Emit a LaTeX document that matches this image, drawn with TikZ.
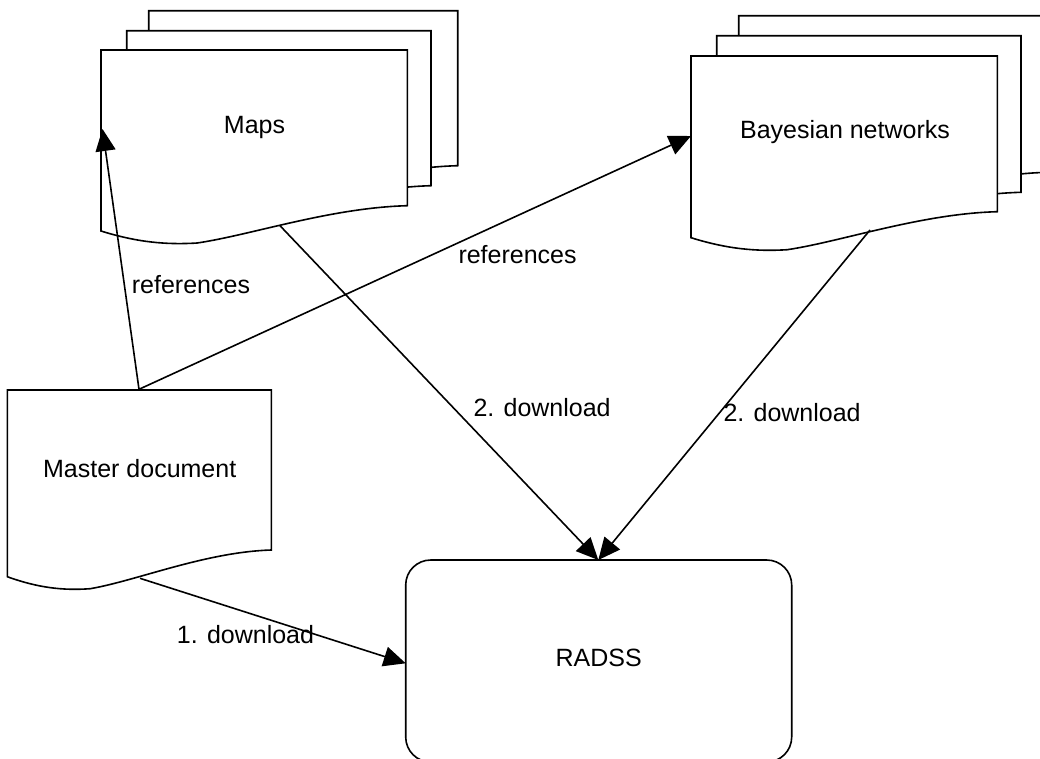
\documentclass[tikz,border=0pt]{standalone}
\usepackage{fontspec}
\setmainfont{Liberation Sans}
\usetikzlibrary{arrows.meta}
\newcommand\docshape[5]{%
  \filldraw[docline] (#1,#2) -- ({#1+#3},#2) -- ({#1+#3},{#2+#5})
    .. controls ({#1+0.75*#3},{#2+#5+2}) and ({#1+0.49*#3},{#2+#4+4}) .. ({#1+0.314*#3},{#2+#4+12})
    .. controls ({#1+0.21*#3},{#2+#4+14}) and ({#1+0.115*#3},{#2+#4+11}) .. (#1,{#2+#4}) -- cycle;}
\begin{document}
\begin{tikzpicture}[x=1pt,y=-1pt,
  docline/.style={draw=black,fill=white,line width=1.6pt,line join=miter},
  conn/.style={draw=black,line width=1.6pt,-{Triangle[length=22pt,width=20pt]}},
  lbl/.style={inner sep=0pt,font=\fontsize{25}{30}\selectfont},
  radssbox/.style={draw=black,line width=1.6pt,rounded corners=25pt,minimum width=386pt,minimum height=202pt,inner sep=0pt,text depth=6pt,font=\fontsize{25}{30}\selectfont}]
\useasboundingbox (0,0) rectangle (1040,758);
\clip (0,0) rectangle (1040,758);
% Maps stack
\docshape{148.7}{10.7}{309}{181}{155}
\docshape{126.7}{30.7}{304.3}{181}{155}
\docshape{101}{50}{306.3}{181}{155.7}
% Bayesian stack
\docshape{738.7}{15.7}{309}{181.7}{156.6}
\docshape{716.7}{35.7}{304.3}{181.7}{156.6}
\docshape{691}{56}{306.3}{181.7}{155.7}
% Master document
\docshape{7.3}{390}{264}{186.7}{160}
% texts
\node[lbl,anchor=base] (maps) at (254.5,133.3) {Maps};
\node[lbl,anchor=base] (bayes) at (845,138.3) {Bayesian networks};
\node[lbl,anchor=base] (master) at (139.7,477.3) {Master document};
\node[radssbox] (radss) at (598.7,661) {RADSS};
% connection points
\coordinate (masterTop) at (139,389.3);
\coordinate (masterBot) at (140,578.3);
\coordinate (mapsLeft) at (102.5,129);
\coordinate (mapsBot) at (280,225.7);
\coordinate (bayesLeft) at (691,136);
\coordinate (bayesBot) at (870,230);
\coordinate (radssTop) at (598.3,560);
\coordinate (radssLeft) at (405.7,663.3);
% connectors
\draw[conn] (masterTop) -- (mapsLeft);
\draw[conn] (masterTop) -- (bayesLeft);
\draw[conn] (mapsBot) -- (radssTop);
\draw[conn] (bayesBot) -- (radssTop);
\draw[conn] (masterBot) -- (radssLeft);
% labels
\node[lbl,anchor=base west] (ref1) at (131.7,293) {references};
\node[lbl,anchor=base west] (ref2) at (458.3,263.3) {references};
\node[lbl,anchor=base west] (dl2a) at (473.3,416.7) {2. download};
\node[lbl,anchor=base west] (dl2b) at (723.3,421.7) {2. download};
\node[lbl,anchor=base west] (dl1) at (176.7,643.3) {1. download};
\end{tikzpicture}
\end{document}
